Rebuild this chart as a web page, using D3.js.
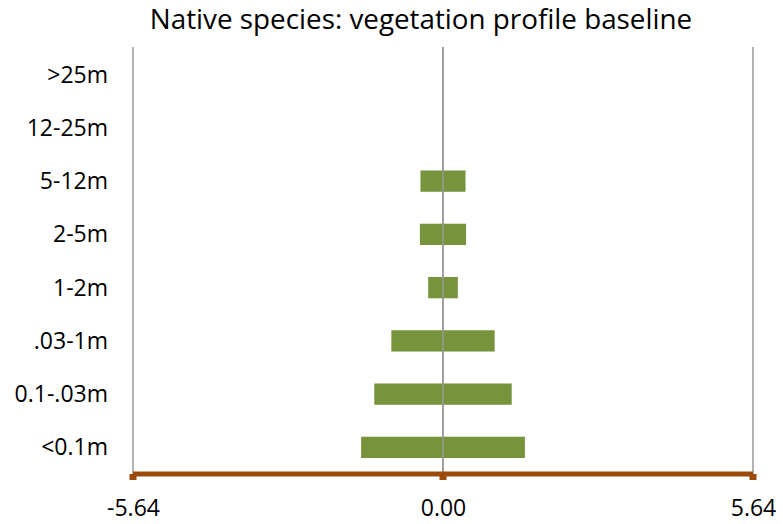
<!DOCTYPE html>
<html><head><meta charset="utf-8">
<script src="https://d3js.org/d3.v7.min.js"></script>
<style>body{margin:0;background:#fff}</style>
</head><body>
<script>
const categories = [">25m","12-25m","5-12m","2-5m","1-2m",".03-1m","0.1-.03m","<0.1m"];
const leftValues = [0, 0, -0.41, -0.42, -0.27, -0.94, -1.25, -1.49];
const rightValues = [0, 0, 0.41, 0.42, 0.27, 0.94, 1.25, 1.49];
const tickValues = [-5.64, 0, 5.64];
const title = "Native species: vegetation profile baseline";

const W = 783, H = 524;
const svg = d3.select("body").append("svg").attr("width", W).attr("height", H);
const font = "'Open Sans', sans-serif";

const x = d3.scaleLinear().domain([-5.64, 5.64]).range([133, 753]);
const y = d3.scaleBand().domain(categories).range([48, 474]).paddingInner(0.6).paddingOuter(0.3);

svg.append("text").attr("x", 421).attr("y", 28.5).attr("text-anchor", "middle")
  .attr("font-family", font).attr("font-size", 27.8).attr("fill", "#000").text(title);

// gridlines
svg.append("g").selectAll("line").data(tickValues).join("line")
  .attr("x1", d => x(d)).attr("x2", d => x(d)).attr("y1", 47).attr("y2", 474)
  .attr("stroke", "#999").attr("stroke-width", 1.5);

const rows = categories.map((c, i) => ({c, l: leftValues[i], r: rightValues[i]}));
svg.append("g").selectAll("rect.l").data(rows.filter(d => d.l !== 0)).join("rect")
  .attr("x", d => x(d.l)).attr("width", d => x(0) - x(d.l))
  .attr("y", d => y(d.c)).attr("height", y.bandwidth()).attr("fill", "#77933c");
svg.append("g").selectAll("rect.r").data(rows.filter(d => d.r !== 0)).join("rect")
  .attr("x", x(0)).attr("width", d => x(d.r) - x(0))
  .attr("y", d => y(d.c)).attr("height", y.bandwidth()).attr("fill", "#77933c");

// redraw zero line over bars
svg.append("line").attr("x1", x(0)).attr("x2", x(0)).attr("y1", 47).attr("y2", 474)
  .attr("stroke", "#999").attr("stroke-width", 1.5);

// category labels
svg.append("g").selectAll("text").data(categories).join("text")
  .attr("x", 108).attr("y", d => y(d) + y.bandwidth() / 2).attr("dy", "0.35em")
  .attr("text-anchor", "end").attr("font-family", font).attr("font-size", 23).attr("fill", "#000")
  .text(d => d);

// x axis
const fmt = d => d3.format(".2f")(d).replace("\u2212", "-");
const xAxis = d3.axisBottom(x).tickValues(tickValues).tickFormat(fmt).tickSize(0).tickPadding(0);
const ax = svg.append("g").attr("transform", "translate(0,474)").call(xAxis);
ax.select(".domain").remove();
ax.selectAll("text").attr("font-family", font).attr("font-size", 23).attr("fill", "#000")
  .attr("dy", null).attr("y", 42);
svg.append("line").attr("x1", x(-5.64)).attr("x2", x(5.64)).attr("y1", 474).attr("y2", 474)
  .attr("stroke", "#9c4a0a").attr("stroke-width", 5);
svg.append("g").selectAll("rect").data(tickValues).join("rect")
  .attr("x", d => x(d) - 3.5).attr("y", 474).attr("width", 7).attr("height", 6).attr("fill", "#9c4a0a");
</script>
</body></html>
